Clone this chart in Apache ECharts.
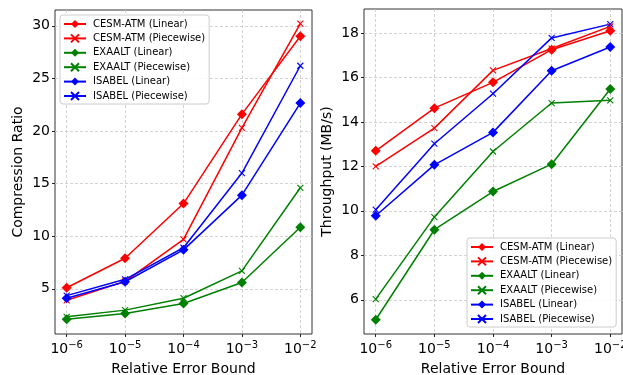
<!DOCTYPE html>
<html><head><meta charset="utf-8">
<script src="https://cdn.jsdelivr.net/npm/echarts@6/dist/echarts.min.js"></script>
<style>html,body{margin:0;padding:0;background:#fff}#c{width:623px;height:375px}</style>
</head><body><div id="c"></div>
<script>
// ---- data ----
const errorBounds = [1e-6, 1e-5, 1e-4, 1e-3, 1e-2];
const xTickExponents = [-6, -5, -4, -3, -2];
const crTicks = [5, 10, 15, 20, 25, 30];
const tpTicks = [6, 8, 10, 12, 14, 16, 18];
const seriesNames = ['CESM-ATM (Linear)', 'CESM-ATM (Piecewise)', 'EXAALT (Linear)', 'EXAALT (Piecewise)', 'ISABEL (Linear)', 'ISABEL (Piecewise)'];

// Compression ratio
const crCesmLinear    = [5.1, 7.9, 13.1, 21.6, 29.0];
const crCesmPiecewise = [3.9, 5.7, 9.7, 20.3, 30.2];
const crExaaltLinear  = [2.1, 2.65, 3.6, 5.6, 10.85];
const crExaaltPiecewise = [2.33, 2.97, 4.1, 6.7, 14.6];
const crIsabelLinear  = [4.1, 5.67, 8.7, 13.9, 22.65];
const crIsabelPiecewise = [4.35, 5.9, 8.9, 16.0, 26.2];

// Throughput (MB/s)
const tpCesmLinear    = [12.7, 14.62, 15.78, 17.25, 18.1];
const tpCesmPiecewise = [12.0, 13.72, 16.32, 17.3, 18.3];
const tpExaaltLinear  = [5.1, 9.15, 10.87, 12.1, 15.48];
const tpExaaltPiecewise = [6.03, 9.72, 12.67, 14.85, 14.97];
const tpIsabelLinear  = [9.78, 12.07, 13.53, 16.3, 17.37];
const tpIsabelPiecewise = [10.05, 13.02, 15.27, 17.78, 18.4];

const crData = [crCesmLinear, crCesmPiecewise, crExaaltLinear, crExaaltPiecewise, crIsabelLinear, crIsabelPiecewise];
const tpData = [tpCesmLinear, tpCesmPiecewise, tpExaaltLinear, tpExaaltPiecewise, tpIsabelLinear, tpIsabelPiecewise];
const colors = ['#ff0000', '#ff0000', '#008000', '#008000', '#0000ff', '#0000ff'];

// ---- chart ----
const FONT = 'DejaVu Sans';
const XMARK = 'path://M0,0L10,10M10,0L0,10';

function mkSeries(vals, i, axisIdx) {
  const linear = i % 2 === 0;
  return {
    name: seriesNames[i],
    type: 'line',
    xAxisIndex: axisIdx, yAxisIndex: axisIdx,
    data: vals.map((v, k) => [Math.log10(errorBounds[k]), v]),
    symbol: linear ? 'diamond' : XMARK,
    symbolSize: linear ? [10, 10] : [6, 6],
    showSymbol: true,
    lineStyle: { color: colors[i], width: 1.5 },
    itemStyle: linear ? { color: colors[i] } : { color: colors[i], borderColor: colors[i], borderWidth: 1.1 },
    emphasis: { disabled: true },
    z: 3
  };
}

function xAxis(gi) {
  return {
    type: 'value', gridIndex: gi, min: -6.2, max: -1.8,
    name: 'Relative Error Bound', nameLocation: 'middle', nameGap: 28,
    nameTextStyle: { fontFamily: FONT, fontSize: 14, color: '#000' },
    axisLine: { show: false },
    axisTick: { show: true, inside: false, length: 3, customValues: xTickExponents, lineStyle: { color: '#222', width: 1 } },
    axisLabel: {
      customValues: xTickExponents, margin: 6,
      formatter: v => '{b|10}{s|\u2212' + Math.abs(Math.round(v)) + '}',
      rich: {
        b: { fontFamily: FONT, fontSize: 14, color: '#000', verticalAlign: 'bottom' },
        s: { fontFamily: FONT, fontSize: 10, color: '#000', verticalAlign: 'bottom', padding: [0, 0, 6, 0] }
      }
    },
    splitLine: { show: true, lineStyle: { color: '#c8c8c8', type: [3, 2], width: 0.8 } }
  };
}

function yAxis(gi, name, mn, mx, ticks) {
  return {
    type: 'value', gridIndex: gi, min: mn, max: mx,
    name: name, nameLocation: 'middle', nameGap: 30,
    nameTextStyle: { fontFamily: FONT, fontSize: 14, color: '#000' },
    axisLine: { show: false },
    axisTick: { show: true, inside: false, length: 3, customValues: ticks, lineStyle: { color: '#222', width: 1 } },
    axisLabel: { customValues: ticks, margin: 5, fontFamily: FONT, fontSize: 14, color: '#000' },
    splitLine: { show: true, lineStyle: { color: '#c8c8c8', type: [3, 2], width: 0.8 } }
  };
}

function legend(left, top) {
  return {
    data: seriesNames, orient: 'vertical', left: left, top: top,
    itemWidth: 22, itemHeight: 10, itemGap: 4.4,
    padding: [4, 4, 3, 3],
    backgroundColor: 'rgba(255,255,255,0.85)', borderColor: '#cccccc', borderWidth: 1, borderRadius: 3,
    textStyle: { fontFamily: FONT, fontSize: 10, color: '#000', padding: [0, 0, 0, 2] },
    selectedMode: false
  };
}

const option = {
  animation: false,
  backgroundColor: '#fff',
  grid: [
    { left: 55, right: 311, top: 10, bottom: 41, containLabel: false, outerBoundsMode: 'none', show: true, borderColor: '#333', borderWidth: 1, backgroundColor: 'transparent' },
    { left: 364, right: 1, top: 9, bottom: 41, containLabel: false, outerBoundsMode: 'none', show: true, borderColor: '#333', borderWidth: 1, backgroundColor: 'transparent' }
  ],
  xAxis: [xAxis(0), xAxis(1)],
  yAxis: [
    yAxis(0, 'Compression Ratio', 0.7, 31.5, crTicks),
    yAxis(1, 'Throughput (MB/s)', 4.46, 19.08, tpTicks)
  ],
  legend: [legend(60, 15), legend(467, 238)],
  series: [
    ...crData.map((d, i) => mkSeries(d, i, 0)),
    ...tpData.map((d, i) => mkSeries(d, i, 1))
  ]
};

const chart = echarts.init(document.getElementById('c'), null, { renderer: 'canvas' });
chart.setOption(option);
</script>
</body></html>
